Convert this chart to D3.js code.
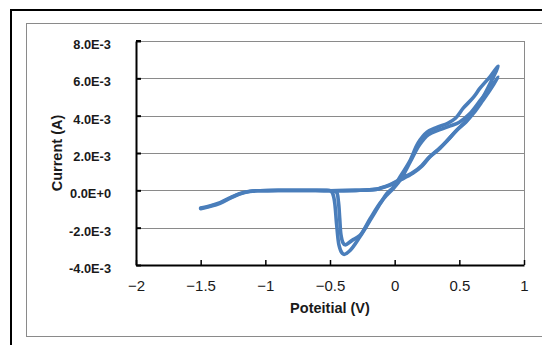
<!DOCTYPE html>
<html>
<head>
<meta charset="utf-8">
<script src="https://cdn.jsdelivr.net/npm/d3@7"></script>
<style>
  html, body { margin: 0; padding: 0; background: #fff; }
  svg { display: block; }
</style>
</head>
<body>
<svg id="chart" width="542" height="345"></svg>
<script>
// Axis ticks and labels
const xTicks = [-2, -1.5, -1, -0.5, 0, 0.5, 1];
const xTickLabels = ["\u22122", "\u22121.5", "\u22121", "\u22120.5", "0", "0.5", "1"];
const yTicks = [-4e-3, -2e-3, 0, 2e-3, 4e-3, 6e-3, 8e-3];
const yTickLabels = ["-4.0E-3", "-2.0E-3", "0.0E+0", "2.0E-3", "4.0E-3", "6.0E-3", "8.0E-3"];

// Cyclic voltammogram, first cycle: potential (V) and current (A)
const cycle1Potential = [
  -1.50, -1.43, -1.35, -1.27, -1.20, -1.12, -1.04, -0.90, -0.70, -0.50, -0.30, -0.15, -0.11, -0.04,
  0.04, 0.14, 0.21, 0.27, 0.35, 0.41, 0.48, 0.55, 0.61, 0.68, 0.74, 0.80,
  0.74, 0.66, 0.61, 0.53, 0.47, 0.41, 0.33, 0.25, 0.18, 0.12, 0.04, -0.01, -0.06, -0.11, -0.19, -0.27,
  -0.345, -0.391, -0.409, -0.430, -0.448, -0.469, -0.49, -0.55, -0.70, -0.90, -1.04, -1.12, -1.20,
  -1.27, -1.35, -1.43, -1.50
];
const cycle1Current = [
  -0.95e-3, -0.84e-3, -0.66e-3, -0.39e-3, -0.18e-3, -0.05e-3, -0.02e-3, 0, 0, -0.02e-3, 0, 0.05e-3, 0.11e-3, 0.27e-3,
  0.54e-3, 0.91e-3, 1.29e-3, 1.77e-3, 2.25e-3, 2.68e-3, 3.22e-3, 3.70e-3, 4.20e-3, 4.95e-3, 5.75e-3, 6.65e-3,
  6.11e-3, 5.47e-3, 4.99e-3, 4.40e-3, 3.86e-3, 3.59e-3, 3.38e-3, 3.11e-3, 2.52e-3, 1.61e-3, 0.70e-3, 0.16e-3, -0.16e-3, -0.70e-3, -1.61e-3, -2.50e-3,
  -3.22e-3, -3.43e-3, -3.34e-3, -2.95e-3, -1.88e-3, -0.43e-3, -0.05e-3, 0, 0, 0, -0.02e-3, -0.05e-3, -0.18e-3,
  -0.39e-3, -0.66e-3, -0.84e-3, -0.95e-3
];

// Second cycle
const cycle2Potential = [
  -1.50, -1.43, -1.35, -1.27, -1.20, -1.12, -1.04, -0.90, -0.70, -0.50, -0.30, -0.15, -0.11, -0.04,
  0.04, 0.14, 0.21, 0.27, 0.35, 0.41, 0.48, 0.55, 0.61, 0.68, 0.74, 0.80,
  0.74, 0.66, 0.58, 0.50, 0.43, 0.35, 0.26, 0.19, 0.12, 0.05, -0.01, -0.06, -0.11, -0.19, -0.268,
  -0.329, -0.384, -0.40, -0.415, -0.425, -0.435, -0.45, -0.50, -0.70, -0.90, -1.04, -1.12, -1.20,
  -1.27, -1.35, -1.43, -1.50
];
const cycle2Current = [
  -0.98e-3, -0.87e-3, -0.70e-3, -0.42e-3, -0.20e-3, -0.06e-3, -0.02e-3, 0, 0, -0.02e-3, 0, 0.05e-3, 0.12e-3, 0.29e-3,
  0.58e-3, 0.95e-3, 1.33e-3, 1.80e-3, 2.28e-3, 2.70e-3, 3.22e-3, 3.65e-3, 4.13e-3, 4.80e-3, 5.40e-3, 6.06e-3,
  5.50e-3, 4.80e-3, 4.10e-3, 3.65e-3, 3.45e-3, 3.25e-3, 2.98e-3, 2.42e-3, 1.52e-3, 0.62e-3, 0.10e-3, -0.25e-3, -0.66e-3, -1.52e-3, -2.41e-3,
  -2.68e-3, -2.92e-3, -2.80e-3, -2.40e-3, -1.50e-3, -0.60e-3, -0.10e-3, -0.02e-3, 0, 0, -0.02e-3, -0.06e-3, -0.20e-3,
  -0.42e-3, -0.70e-3, -0.87e-3, -0.98e-3
];

const svg = d3.select("#chart");
const plotLeft = 136, plotRight = 524, plotTop = 41, plotBottom = 265;

const x = d3.scaleLinear().domain([-2, 1]).range([plotLeft, plotRight]);
const y = d3.scaleLinear().domain([-4e-3, 8e-3]).range([plotBottom, plotTop]);

// Outer page border and chart frame
svg.append("rect").attr("x", 11).attr("y", 10).attr("width", 560).attr("height", 360)
  .attr("fill", "none").attr("stroke", "#000").attr("stroke-width", 2);
svg.append("rect").attr("x", 26.5).attr("y", 23.5).attr("width", 540).attr("height", 313)
  .attr("fill", "#fff").attr("stroke", "#8a8a8a").attr("stroke-width", 1);

// Horizontal gridlines
svg.append("g").selectAll("line").data(yTicks.slice(1)).join("line")
  .attr("x1", plotLeft).attr("x2", plotRight)
  .attr("y1", d => Math.round(y(d)) + 0.5).attr("y2", d => Math.round(y(d)) + 0.5)
  .attr("stroke", "#8a8a8a").attr("stroke-width", 1);

// Right border of plot area
svg.append("line").attr("x1", plotRight + 0.5).attr("x2", plotRight + 0.5).attr("y1", plotTop).attr("y2", plotBottom)
  .attr("stroke", "#8a8a8a").attr("stroke-width", 1);

// Data curves
const line = d3.line().x(d => x(d[0])).y(d => y(d[1])).curve(d3.curveCatmullRom.alpha(0.5));
const cycles = [
  d3.zip(cycle1Potential, cycle1Current),
  d3.zip(cycle2Potential, cycle2Current)
];
svg.append("g").selectAll("path").data(cycles).join("path")
  .attr("d", line)
  .attr("fill", "none")
  .attr("stroke", "#4a7ebb")
  .attr("stroke-width", 3.6)
  .attr("stroke-linejoin", "round")
  .attr("stroke-linecap", "round");

// Y axis
const yAxis = d3.axisLeft(y)
  .tickValues(yTicks)
  .tickFormat((d, i) => yTickLabels[i])
  .tickSizeInner(-5).tickSizeOuter(0).tickPadding(25);
const gy = svg.append("g").attr("transform", `translate(${plotLeft},0)`).call(yAxis);
gy.select(".domain").attr("stroke", "#000").attr("stroke-width", 2);
gy.selectAll(".tick line").attr("stroke", "#000").attr("stroke-width", 2);
gy.selectAll(".tick text")
  .attr("font-family", "'Liberation Sans', Arial, sans-serif")
  .attr("font-weight", "bold").attr("font-size", 12.8).attr("fill", "#1a1a1a")
  .attr("dy", "0.58em");

// X axis
const xAxis = d3.axisBottom(x)
  .tickValues(xTicks)
  .tickFormat((d, i) => xTickLabels[i])
  .tickSizeInner(-5).tickSizeOuter(0).tickPadding(15);
const gx = svg.append("g").attr("transform", `translate(0,${plotBottom})`).call(xAxis);
gx.select(".domain").attr("stroke", "#000").attr("stroke-width", 2);
gx.selectAll(".tick line").attr("stroke", "#000").attr("stroke-width", 1.5);
gx.selectAll(".tick text")
  .attr("font-family", "'Liberation Sans', Arial, sans-serif")
  .attr("font-size", 15).attr("fill", "#1a1a1a");

// Top border of plot area, joined to the first y tick
svg.append("line").attr("x1", plotLeft).attr("x2", plotRight + 1).attr("y1", plotTop + 0.5).attr("y2", plotTop + 0.5)
  .attr("stroke", "#8a8a8a").attr("stroke-width", 1);
svg.append("line").attr("x1", plotLeft).attr("x2", plotLeft + 5).attr("y1", plotTop).attr("y2", plotTop)
  .attr("stroke", "#000").attr("stroke-width", 2);

// Axis titles
svg.append("text")
  .attr("x", 330).attr("y", 313)
  .attr("text-anchor", "middle")
  .attr("font-family", "'Liberation Sans', Arial, sans-serif")
  .attr("font-weight", "bold").attr("font-size", 14.5).attr("fill", "#1a1a1a")
  .text("Poteitial (V)");

svg.append("text")
  .attr("transform", "translate(62,153) rotate(-90)")
  .attr("text-anchor", "middle")
  .attr("font-family", "'Liberation Sans', Arial, sans-serif")
  .attr("font-weight", "bold").attr("font-size", 14.5).attr("fill", "#1a1a1a")
  .text("Current (A)");
</script>
</body>
</html>
